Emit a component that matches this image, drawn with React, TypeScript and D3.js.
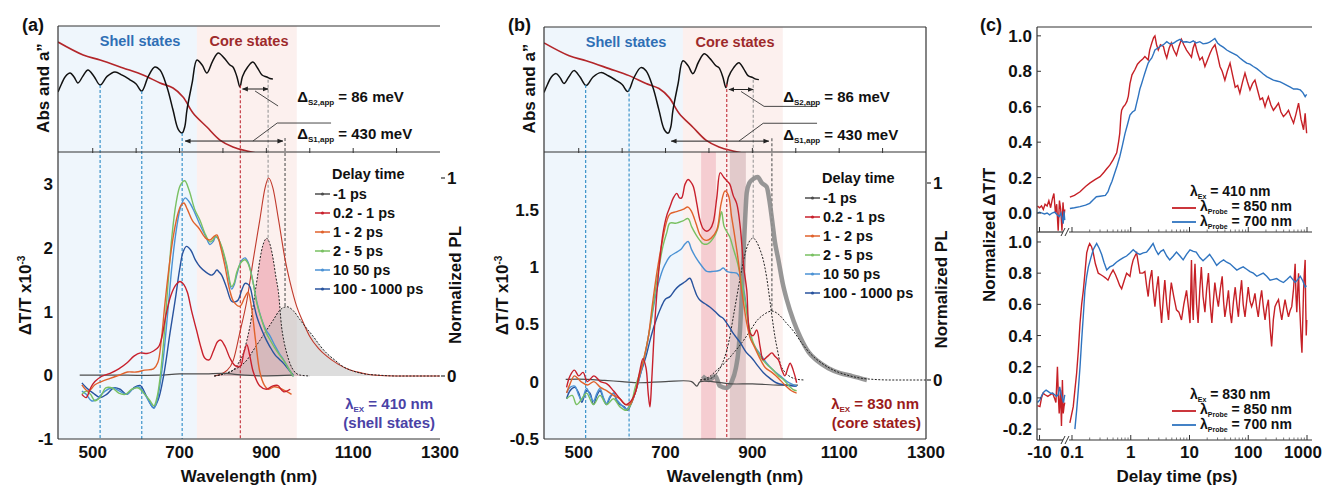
import React from 'react';
import * as d3 from 'd3';

type Pt = [number, number];

// ---------------- shared top strip (Abs and a'') ----------------
const absorbance: Pt[] = [[420,0.873],[478,0.77],[517,0.73],[570,0.667],[616,0.611],[655,0.548],[685,0.508],[708,0.437],[731,0.31],[763,0.198],[793,0.095],[823,0.04],[855,0.008],[880,-0.01]];
const secondDeriv: Pt[] = [[420,0.476],[428,0.54],[437,0.6],[448,0.627],[457,0.595],[466,0.548],[477,0.6],[489,0.651],[503,0.6],[517,0.532],[533,0.6],[551,0.635],[568,0.61],[585,0.575],[600,0.54],[613,0.484],[628,0.6],[643,0.675],[655,0.65],[671,0.516],[685,0.333],[697,0.18],[706,0.151],[712,0.2],[717,0.333],[729,0.548],[740,0.73],[752,0.69],[763,0.627],[776,0.72],[789,0.786],[803,0.745],[816,0.69],[823,0.675],[832,0.6],[839,0.516],[845,0.6],[857,0.675],[869,0.714],[880,0.665],[890,0.611],[901,0.595],[908,0.583],[915,0.579]];

const wlTicks = [500, 700, 900, 1100, 1300];
const delayLabels = ['-1 ps', '0.2 - 1 ps', '1 - 2 ps', '2 - 5 ps', '10  50 ps', '100 - 1000 ps'];

// ---------------- panel (a), excitation 410 nm ----------------
const aM1: Pt[] = [[470,0],[520,0],[580,0.0],[650,0.0],[700,0.02],[760,0.02],[800,0.03],[850,0.0],[900,-0.01],[960,0.0]];
const a02: Pt[] = [[475,-0.3],[485,-0.35],[495,-0.2],[505,-0.1],[520,-0.02],[540,0.03],[560,0.1],[580,0.2],[595,0.3],[610,0.35],[625,0.34],[640,0.38],[652,0.45],[660,0.62],[668,0.92],[680,1.25],[692,1.42],[701,1.47],[710,1.42],[718,1.3],[728,1.0],[739,0.71],[750,0.42],[758,0.27],[768,0.24],[778,0.38],[788,0.53],[795,0.55],[805,0.45],[816,0.27],[828,0.15],[840,0.14],[848,0.35],[855,0.48],[862,0.3],[870,0.05],[885,-0.17],[900,-0.22],[914,-0.17],[926,-0.16],[940,-0.26],[955,-0.22]];
const a12: Pt[] = [[475,-0.15],[490,-0.25],[505,-0.15],[520,-0.1],[540,-0.05],[560,0.0],[580,0.05],[600,0.05],[620,0.08],[640,0.1],[650,0.2],[658,0.55],[666,1.1],[675,1.65],[685,2.15],[695,2.5],[703,2.66],[710,2.7],[718,2.6],[730,2.42],[745,2.3],[760,2.15],[770,2.12],[780,2.18],[786,2.2],[795,2.0],[805,1.7],[815,1.35],[825,1.15],[839,1.08],[850,1.22],[858,1.3],[866,1.05],[875,0.55],[885,0.05],[895,-0.15],[905,-0.22],[918,-0.18],[930,-0.2],[945,-0.25],[958,-0.3]];
const a25: Pt[] = [[475,-0.3],[485,-0.25],[495,-0.3],[505,-0.4],[517,-0.35],[530,-0.2],[545,-0.2],[560,-0.28],[575,-0.3],[590,-0.22],[605,-0.2],[620,-0.3],[632,-0.4],[641,-0.48],[648,-0.35],[655,-0.05],[663,0.5],[672,1.3],[682,2.15],[692,2.7],[702,2.98],[712,3.05],[722,2.9],[735,2.6],[747,2.43],[760,2.2],[770,2.09],[777,2.12],[782,2.18],[788,2.15],[797,2.02],[808,1.75],[820,1.39],[826,1.45],[832,1.62],[843,1.78],[851,1.81],[858,1.75],[864,1.62],[871,1.4],[878,1.13],[890,0.85],[900,0.66],[908,0.56],[920,0.42],[930,0.32],[939,0.24],[950,0.12],[962,-0.02]];
const a1050: Pt[] = [[475,-0.25],[485,-0.3],[497,-0.4],[510,-0.38],[520,-0.3],[535,-0.22],[548,-0.2],[562,-0.25],[578,-0.3],[592,-0.22],[606,-0.18],[620,-0.3],[633,-0.45],[641,-0.52],[649,-0.38],[656,-0.1],[664,0.35],[673,1.0],[683,1.75],[693,2.3],[703,2.65],[713,2.78],[722,2.72],[735,2.55],[747,2.36],[760,2.18],[770,2.05],[778,2.1],[783,2.17],[790,2.13],[797,2.0],[808,1.72],[820,1.35],[826,1.42],[832,1.58],[843,1.8],[851,1.84],[858,1.77],[864,1.63],[871,1.4],[878,1.15],[890,0.86],[900,0.7],[908,0.62],[920,0.46],[930,0.34],[939,0.25],[950,0.12],[962,-0.02]];
const a1001000: Pt[] = [[475,-0.12],[486,-0.2],[501,-0.28],[517,-0.35],[532,-0.3],[548,-0.2],[563,-0.22],[578,-0.3],[594,-0.2],[609,-0.16],[624,-0.33],[640,-0.51],[651,-0.38],[663,-0.02],[678,0.66],[690,1.18],[700,1.65],[708,1.93],[716,2.02],[726,1.96],[737,1.8],[747,1.7],[760,1.62],[774,1.57],[780,1.6],[786,1.65],[791,1.62],[797,1.57],[808,1.38],[820,1.16],[828,1.15],[835,1.18],[843,1.33],[851,1.44],[857,1.43],[862,1.39],[870,1.15],[878,0.92],[890,0.7],[900,0.55],[908,0.45],[920,0.32],[930,0.25],[939,0.19],[950,0.1],[962,0.0]];
// PL (normalized, right axis)
const aPL: Pt[] = [[780,0],[810,0.03],[824,0.08],[839,0.22],[855,0.38],[870,0.59],[885,0.79],[897,0.95],[905,1.0],[915,0.95],[928,0.79],[943,0.59],[955,0.47],[970,0.35],[985,0.27],[1000,0.2],[1020,0.14],[1039,0.1],[1065,0.06],[1093,0.03],[1120,0.015],[1146,0.005],[1200,0],[1300,0]];
const aPLNarrow: Pt[] = [[780,0],[793,0.005],[810,0.015],[824,0.03],[837,0.07],[847,0.115],[855,0.18],[862,0.25],[868,0.33],[874,0.42],[880,0.51],[885,0.586],[892,0.66],[901,0.695],[909,0.66],[916,0.586],[922,0.5],[928,0.42],[935,0.25],[941,0.17],[947,0.115],[955,0.06],[962,0.03],[977,0.005],[1000,0]];
const aPLBroad: Pt[] = [[780,0],[793,0.005],[824,0.03],[840,0.05],[855,0.08],[870,0.13],[885,0.18],[900,0.23],[916,0.283],[930,0.33],[947,0.35],[962,0.33],[978,0.283],[993,0.24],[1008,0.2],[1023,0.155],[1039,0.115],[1058,0.08],[1077,0.047],[1096,0.028],[1116,0.015],[1135,0.008],[1154,0.005],[1200,0],[1300,0]];

// ---------------- panel (b), excitation 830 nm ----------------
const bM1: Pt[] = [[470,0.02],[520,0.02],[560,0.01],[600,0.0],[640,-0.01],[700,0.0],[760,0.0],[772,-0.04],[780,0.0],[850,-0.02],[900,-0.02],[960,-0.03],[1005,-0.03]];
const b02: Pt[] = [[472,-0.05],[480,0.05],[490,0.1],[500,0.05],[510,0.08],[520,0.0],[535,0.05],[550,0.0],[565,-0.02],[580,-0.08],[595,-0.15],[608,-0.2],[618,-0.18],[630,-0.1],[640,0.08],[648,0.2],[655,0.12],[660,-0.1],[664,-0.22],[668,0.0],[675,0.5],[684,0.95],[694,1.29],[703,1.45],[710,1.52],[718,1.6],[726,1.64],[732,1.6],[737,1.6],[745,1.72],[752,1.76],[758,1.74],[764,1.7],[772,1.55],[779,1.41],[787,1.33],[795,1.31],[803,1.33],[810,1.39],[818,1.6],[826,1.82],[834,1.78],[841,1.75],[848,1.72],[856,1.62],[864,1.55],[872,1.35],[880,1.0],[887,0.8],[895,0.42],[902,0.4],[910,0.45],[918,0.3],[925,0.19],[935,0.22],[945,0.25],[952,0.22],[960,0.19],[968,0.1],[975,0.05],[982,0.12],[987,0.16],[994,0.1],[1002,-0.01]];
const b12: Pt[] = [[472,-0.1],[480,-0.02],[490,0.05],[505,0.0],[520,-0.03],[535,0.0],[550,-0.05],[565,-0.08],[580,-0.12],[595,-0.15],[608,-0.2],[618,-0.2],[630,-0.1],[640,0.05],[650,0.2],[660,0.38],[670,0.68],[680,0.95],[694,1.25],[703,1.4],[710,1.46],[725,1.48],[740,1.5],[752,1.52],[760,1.48],[770,1.38],[779,1.28],[787,1.24],[795,1.23],[805,1.25],[818,1.32],[828,1.55],[837,1.66],[845,1.62],[852,1.44],[858,1.3],[864,1.15],[870,0.98],[875,0.8],[881,0.65],[887,0.51],[895,0.38],[905,0.3],[915,0.22],[930,0.12],[945,0.08],[960,0.03],[975,-0.03],[990,-0.08],[1002,-0.1]];
const b25: Pt[] = [[472,-0.15],[485,-0.12],[495,-0.2],[507,-0.15],[518,-0.1],[534,-0.2],[549,-0.12],[564,-0.2],[580,-0.15],[595,-0.22],[610,-0.25],[620,-0.2],[630,-0.05],[641,0.08],[650,0.2],[660,0.38],[670,0.62],[680,0.88],[694,1.18],[703,1.3],[710,1.38],[725,1.38],[740,1.4],[752,1.42],[760,1.35],[770,1.28],[779,1.23],[787,1.2],[797,1.2],[810,1.25],[820,1.33],[829,1.48],[835,1.35],[848,1.26],[856,1.16],[864,1.06],[872,0.93],[879,0.8],[885,0.65],[891,0.51],[902,0.34],[918,0.22],[933,0.15],[948,0.1],[960,0.05],[971,0.02],[985,-0.04],[994,-0.07],[1002,-0.08]];
const b1050: Pt[] = [[472,-0.1],[480,-0.05],[491,-0.04],[500,-0.12],[507,-0.16],[518,-0.06],[526,-0.12],[534,-0.17],[542,-0.1],[549,-0.06],[557,-0.14],[564,-0.19],[572,-0.13],[580,-0.1],[588,-0.16],[595,-0.19],[610,-0.24],[618,-0.2],[626,-0.14],[634,-0.05],[641,0.05],[650,0.18],[660,0.38],[670,0.6],[680,0.8],[694,0.98],[703,1.05],[710,1.09],[722,1.12],[735,1.15],[745,1.2],[752,1.22],[760,1.15],[770,1.08],[779,1.03],[787,0.99],[795,0.96],[810,0.96],[825,0.97],[833,0.99],[841,0.96],[852,0.95],[864,0.945],[872,0.9],[880,0.8],[887,0.63],[895,0.39],[902,0.33],[910,0.28],[922,0.22],[933,0.16],[948,0.1],[964,0.05],[980,0.0],[1002,-0.04]];
const b1001000: Pt[] = [[472,-0.15],[480,-0.08],[491,-0.05],[500,-0.1],[507,-0.18],[518,-0.08],[526,-0.1],[534,-0.2],[542,-0.12],[549,-0.08],[557,-0.15],[564,-0.2],[572,-0.14],[580,-0.1],[588,-0.17],[595,-0.2],[605,-0.22],[612,-0.25],[620,-0.2],[628,-0.12],[636,-0.02],[645,0.1],[655,0.22],[665,0.37],[675,0.5],[690,0.65],[700,0.72],[710,0.74],[722,0.8],[733,0.84],[745,0.87],[756,0.9],[765,0.82],[772,0.75],[779,0.71],[790,0.68],[802,0.65],[814,0.61],[825,0.57],[833,0.55],[841,0.51],[848,0.47],[856,0.42],[864,0.38],[872,0.34],[880,0.29],[887,0.25],[895,0.22],[902,0.19],[914,0.13],[925,0.08],[940,0.03],[955,-0.01],[975,-0.03],[1002,-0.04]];
const bPL: Pt[] = [[785,0.02],[800,0.0],[815,0.02],[825,-0.03],[840,-0.04],[852,-0.01],[862,0.06],[868,0.15],[872,0.27],[876,0.45],[879,0.61],[883,0.8],[887,0.95],[893,1.0],[902,1.02],[912,1.03],[922,1.0],[933,0.98],[940,0.9],[945,0.82],[952,0.7],[960,0.61],[970,0.49],[979,0.41],[995,0.3],[1010,0.22],[1030,0.14],[1048,0.1],[1075,0.06],[1102,0.035],[1130,0.02],[1164,0.0]];
const bPLNarrow: Pt[] = [[780,0],[795,0.003],[810,0.015],[818,0.034],[830,0.08],[841,0.15],[849,0.23],[856,0.32],[864,0.42],[872,0.52],[880,0.61],[887,0.67],[895,0.71],[902,0.72],[910,0.7],[918,0.66],[925,0.61],[933,0.52],[940,0.41],[946,0.31],[952,0.22],[958,0.15],[964,0.085],[975,0.04],[987,0.017],[1000,0.005],[1020,0]];
const bPLBroad: Pt[] = [[780,0],[800,0.015],[818,0.05],[838,0.09],[856,0.135],[876,0.19],[895,0.25],[910,0.3],[925,0.33],[945,0.35],[962,0.33],[978,0.29],[994,0.25],[1013,0.19],[1033,0.135],[1060,0.085],[1087,0.05],[1118,0.025],[1148,0.01],[1180,0.003],[1220,0],[1300,0]];
const bBands: Pt[] = [[782, 816], [848, 885]];

// ---------------- panel (c) kinetics ----------------
const cTopRed: Pt[] = [[-10.8,0.04],[-10,0.03],[-9.2,0.04],[-8.5,0.02],[-7.8,0.05],[-7,0.04],[-6.3,0.07],[-5.6,0.03],[-4.9,0.08],[-4.3,0.11],[-3.7,0.0],[-3.2,0.05],[-2.6,-0.1],[-2.1,0.07],[-1.6,0.02],[-1.1,-0.1],[-0.7,0.06],[-0.3,-0.02],[0,0.02],
  [0.092,0.09],[0.11,0.1],[0.137,0.12],[0.17,0.15],[0.203,0.17],[0.25,0.19],[0.3,0.205],[0.35,0.23],[0.39,0.25],[0.44,0.27],[0.5,0.3],[0.577,0.34],[0.62,0.4],[0.65,0.45],[0.68,0.55],[0.7,0.58],[0.75,0.6],[0.8,0.61],[0.86,0.63],[0.91,0.66],[0.97,0.73],[1.05,0.78],[1.18,0.81],[1.3,0.84],[1.43,0.855],[1.6,0.87],[1.74,0.883],[1.98,0.864],[2.1,0.92],[2.28,0.96],[2.45,0.99],[2.58,1.0],[2.75,0.95],[2.94,0.92],[3.2,0.95],[3.6,0.94],[3.85,0.9],[4.1,0.875],[4.5,0.93],[4.9,0.96],[5.4,0.92],[6,0.89],[6.6,0.94],[7.3,0.98],[8,0.95],[8.9,0.92],[9.8,0.9],[10.8,0.88],[11.5,0.93],[12.4,0.96],[13.5,0.91],[15,0.864],[16.5,0.88],[18.3,0.827],[20,0.86],[22.3,0.9],[24.5,0.93],[27.2,0.95],[30,0.89],[33,0.827],[36,0.8],[40,0.75],[44,0.8],[49,0.846],[54,0.78],[60,0.71],[66,0.72],[72,0.676],[80,0.74],[88,0.79],[97,0.74],[107,0.695],[118,0.73],[130,0.75],[145,0.69],[159,0.64],[175,0.65],[193,0.6],[205,0.63],[220,0.657],[243,0.61],[268,0.58],[297,0.6],[327,0.62],[360,0.57],[397,0.544],[440,0.56],[484,0.58],[535,0.54],[590,0.507],[650,0.56],[718,0.62],[790,0.53],[874,0.47],[905,0.52],[930,0.563],[960,0.5],[985,0.45]];
const cTopBlue: Pt[] = [[-10.8,0],[-10,0.005],[-9,0],[-8,-0.005],[-7,0],[-6,-0.01],[-5,0],[-4,0.005],[-3,-0.01],[-2.2,-0.02],[-1.5,0],[-1,-0.03],[-0.6,-0.06],[-0.3,0.01],[0,-0.04],
  [0.092,0.026],[0.11,0.03],[0.137,0.036],[0.17,0.045],[0.2,0.055],[0.23,0.075],[0.26,0.092],[0.3,0.095],[0.37,0.1],[0.41,0.12],[0.44,0.15],[0.48,0.18],[0.53,0.223],[0.59,0.27],[0.65,0.318],[0.72,0.38],[0.8,0.45],[0.88,0.5],[0.97,0.553],[1.07,0.57],[1.18,0.58],[1.26,0.62],[1.34,0.657],[1.43,0.7],[1.53,0.73],[1.63,0.76],[1.74,0.79],[1.86,0.82],[1.98,0.846],[2.1,0.86],[2.28,0.875],[2.45,0.9],[2.58,0.92],[2.85,0.93],[3.15,0.94],[3.6,0.95],[4.1,0.967],[4.6,0.955],[5.3,0.958],[6,0.97],[6.9,0.98],[7.8,0.965],[8.9,0.967],[10.2,0.962],[11.6,0.972],[13,0.96],[15,0.967],[17,0.955],[19.6,0.958],[22,0.965],[24.5,0.975],[27,0.985],[30,0.96],[33,0.948],[38,0.935],[43,0.92],[49,0.91],[56,0.9],[64,0.89],[72,0.875],[82,0.86],[94,0.846],[107,0.84],[122,0.827],[140,0.815],[159,0.8],[180,0.785],[206,0.77],[235,0.76],[268,0.75],[305,0.745],[350,0.74],[400,0.73],[455,0.72],[520,0.71],[590,0.7],[680,0.7],[768,0.695],[850,0.68],[930,0.657],[985,0.67]];
const cBotRed: Pt[] = [[-10.8,-0.05],[-9.85,-0.056],[-9.2,0],[-8.6,0.03],[-7.8,0.02],[-6.7,0.01],[-5.8,0.02],[-4.8,0.03],[-4.1,0],[-3.5,-0.03],[-2.9,0.2],[-2.5,0],[-2.2,-0.1],[-1.7,0.05],[-1.3,-0.18],[-0.93,0.115],[-0.6,-0.1],[-0.3,-0.056],[0,-0.03],
  [0.092,-0.16],[0.105,-0.056],[0.112,0.05],[0.12,0.16],[0.128,0.3],[0.137,0.48],[0.146,0.6],[0.156,0.69],[0.166,0.8],[0.178,0.93],[0.19,0.97],[0.2,0.99],[0.215,0.97],[0.23,0.93],[0.25,0.86],[0.28,0.8],[0.31,0.79],[0.34,0.78],[0.37,0.77],[0.41,0.755],[0.45,0.79],[0.5,0.82],[0.55,0.79],[0.6,0.755],[0.65,0.72],[0.7,0.7],[0.77,0.75],[0.85,0.8],[0.97,0.78],[1.03,0.84],[1.1,0.885],[1.18,0.91],[1.26,0.93],[1.35,0.86],[1.43,0.8],[1.6,0.8],[1.74,0.81],[1.86,0.72],[1.98,0.65],[2.1,0.75],[2.28,0.82],[2.4,0.7],[2.58,0.585],[2.75,0.7],[2.94,0.78],[3.15,0.6],[3.35,0.48],[3.6,0.65],[3.8,0.755],[4.1,0.6],[4.4,0.5],[4.65,0.65],[4.9,0.74],[5.4,0.65],[6,0.565],[6.6,0.55],[7.3,0.5],[8,0.6],[8.9,0.69],[9.6,0.58],[10.2,0.48],[10.8,0.885],[11.2,0.6],[11.6,0.5],[12,0.75],[12.4,0.86],[13.2,0.6],[14,0.48],[15,0.7],[15.9,0.84],[17,0.65],[18.3,0.55],[19.6,0.7],[21,0.8],[22.5,0.6],[24,0.48],[25.5,0.62],[27,0.74],[29,0.65],[31,0.585],[33.5,0.7],[36,0.78],[38,0.62],[40,0.52],[43,0.6],[46,0.69],[49,0.55],[52,0.48],[56,0.62],[60,0.71],[64,0.6],[68,0.52],[72,0.65],[77,0.755],[82,0.6],[88,0.52],[94,0.62],[100,0.71],[107,0.62],[114,0.585],[122,0.62],[130,0.67],[139,0.58],[148,0.52],[158,0.62],[169,0.69],[181,0.58],[193,0.5],[206,0.58],[220,0.63],[235,0.45],[250,0.33],[267,0.5],[285,0.585],[305,0.61],[327,0.63],[349,0.56],[372,0.5],[397,0.57],[423,0.63],[453,0.57],[484,0.52],[516,0.56],[550,0.585],[590,0.7],[628,0.86],[650,0.65],[670,0.55],[695,0.7],[718,0.8],[742,0.62],[768,0.5],[793,0.38],[820,0.29],[847,0.5],[874,0.69],[900,0.8],[930,0.885],[950,0.6],[970,0.4],[990,0.5]];
const cBotBlue: Pt[] = [[-10.8,-0.03],[-9.85,-0.013],[-9,0.02],[-8.2,0.04],[-7.4,0.05],[-6.5,0.04],[-5.6,0.03],[-4.8,0.03],[-4,0.02],[-3.3,0.01],[-2.6,0.02],[-2,0.07],[-1.5,0.03],[-1,0],[-0.5,-0.03],[0,0.02],
  [0.112,-0.2],[0.12,-0.08],[0.128,0.05],[0.137,0.2],[0.146,0.37],[0.156,0.53],[0.166,0.69],[0.178,0.78],[0.19,0.84],[0.21,0.9],[0.23,0.95],[0.245,0.97],[0.263,0.99],[0.29,0.96],[0.32,0.92],[0.35,0.87],[0.39,0.82],[0.44,0.84],[0.5,0.85],[0.57,0.87],[0.65,0.885],[0.75,0.9],[0.85,0.91],[0.97,0.93],[1.1,0.95],[1.26,0.93],[1.43,0.92],[1.63,0.93],[1.86,0.935],[2.1,0.96],[2.4,0.99],[2.65,0.95],[2.94,0.92],[3.25,0.94],[3.6,0.95],[4.1,0.91],[4.6,0.885],[5.3,0.91],[6,0.935],[6.9,0.91],[7.8,0.885],[8.9,0.92],[10.2,0.95],[11.6,0.94],[13,0.935],[15,0.9],[17,0.88],[19.5,0.9],[22,0.92],[25,0.89],[29,0.85],[33,0.87],[38,0.885],[43,0.87],[49,0.86],[56,0.84],[64,0.82],[72,0.83],[82,0.84],[94,0.825],[107,0.81],[122,0.8],[140,0.78],[159,0.79],[180,0.8],[206,0.78],[235,0.755],[268,0.76],[305,0.765],[350,0.75],[397,0.74],[455,0.76],[518,0.78],[570,0.76],[628,0.74],[700,0.76],[768,0.78],[850,0.75],[930,0.71],[980,0.72]];
const cTopTicks = [0, 0.2, 0.4, 0.6, 0.8, 1.0];
const cBotTicks = [-0.2, 0, 0.2, 0.4, 0.6, 0.8, 1.0];
const cLogTicks = [0.1, 1, 10, 100, 1000];

const FONT = '"Liberation Sans", Arial, Helvetica, sans-serif';
const delayColors = ['#4d4d4d', '#c8202c', '#e0622c', '#79c062', '#4b92d4', '#28539e'];
const RED = '#c62026';
const BLUE = '#2f74c0';

function interp(arr: Pt[], x: number) {
  for (let i = 1; i < arr.length; i++) {
    if (arr[i][0] >= x) {
      const [x0, y0] = arr[i - 1];
      const [x1, y1] = arr[i];
      return y0 + ((y1 - y0) * (x - x0)) / (x1 - x0);
    }
  }
  return arr[arr.length - 1][1];
}

function Sub({ children, dy = 3, size = 8 }: { children: React.ReactNode; dy?: number; size?: number }) {
  return <tspan dy={dy} fontSize={size}>{children}</tspan>;
}

interface PanelProps {
  id: string; tag: string;
  left: number; right: number; top: number; mid: number; bottom: number;
  yDomain: [number, number]; yTicks: number[]; plRange: [number, number];
  curves: Pt[][]; pl?: Pt[]; plGray?: Pt[]; plNarrow: Pt[]; plBroad: Pt[];
  fills: boolean; bands?: Pt[];
  shellMarks: number[]; coreMark: number; s2Mark: number; s1Mark: number;
  legendX: number; legendY: number; yTitleOffset: number;
  exText: string; exState: string; exColor: string; rightSpine: boolean;
}

function SpectrumPanel(p: PanelProps) {
  const x = d3.scaleLinear().domain([420, 1300]).range([p.left, p.right]);
  const yT = d3.scaleLinear().domain([0, 1]).range([p.mid, p.top]);
  const y = d3.scaleLinear().domain(p.yDomain).range([p.bottom, p.mid]);
  const yPL = d3.scaleLinear().domain([0, 1]).range(p.plRange);

  const smooth = d3.curveMonotoneX;
  const lineT = d3.line<Pt>().x(d => x(d[0])).y(d => yT(d[1])).curve(d3.curveCatmullRom.alpha(0.5));
  const lineB = d3.line<Pt>().x(d => x(d[0])).y(d => y(d[1])).curve(d3.curveCatmullRom.alpha(0.5));
  const linePL = d3.line<Pt>().x(d => x(d[0])).y(d => yPL(d[1])).curve(smooth);
  const areaPL = d3.area<Pt>().x(d => x(d[0])).y0(yPL(0)).y1(d => yPL(d[1])).curve(smooth);

  const s2Level = 0.5, s1Level = 0.087;
  const order = [0, 5, 4, 3, 2, 1];
  const topClip = `${p.id}-top`, botClip = `${p.id}-bot`;
  const bold = { fontFamily: FONT, fontWeight: 700 } as const;

  return (
    <g>
      <defs>
        <clipPath id={topClip}><rect x={p.left} y={p.top} width={p.right - p.left} height={p.mid - p.top} /></clipPath>
        <clipPath id={botClip}><rect x={p.left} y={p.mid} width={p.right - p.left} height={p.bottom - p.mid} /></clipPath>
      </defs>
      {/* background regions */}
      <rect x={x(420)} y={p.top} width={x(740) - x(420)} height={p.bottom - p.top} fill="#eff6fc" />
      <rect x={x(740)} y={p.top} width={x(970) - x(740)} height={p.bottom - p.top} fill="#fcf0ee" />
      {p.bands && p.bands.map((b, i) => (
        <rect key={i} x={x(b[0])} y={p.mid} width={x(b[1]) - x(b[0])} height={p.bottom - p.mid}
          fill={i === 0 ? '#f5cdd1' : '#e2cacb'} />
      ))}

      {/* top strip */}
      <g clipPath={`url(#${topClip})`}>
        <path d={lineT(absorbance) ?? ''} fill="none" stroke="#b3262a" strokeWidth={1.6} />
        <path d={lineT(secondDeriv) ?? ''} fill="none" stroke="#111" strokeWidth={1.5} />
      </g>
      <text x={x(609)} y={p.top + 20} textAnchor="middle" fontSize={14.5} fill="#2f6fb5" {...bold}>Shell states</text>
      <text x={x(860)} y={p.top + 20} textAnchor="middle" fontSize={14.5} fill="#9e2a2b" {...bold}>Core states</text>

      {/* PL fills */}
      <g clipPath={`url(#${botClip})`}>
        {p.fills && <path d={areaPL(p.plNarrow) ?? ''} fill="#e8899a" opacity={0.5} />}
        {p.fills && <path d={areaPL(p.plBroad) ?? ''} fill="#b4b4b4" opacity={0.45} />}
      </g>

      {/* marker lines */}
      {p.shellMarks.map(w => (
        <line key={w} x1={x(w)} x2={x(w)} y1={yT(interp(secondDeriv, w))} y2={p.bottom} stroke="#2b8ac6" strokeWidth={1.1} strokeDasharray="3,2" />
      ))}
      <line x1={x(p.coreMark)} x2={x(p.coreMark)} y1={yT(interp(secondDeriv, p.coreMark))} y2={p.bottom} stroke="#c0303a" strokeWidth={1.1} strokeDasharray="3,2" />
      <line x1={x(p.s2Mark)} x2={x(p.s2Mark)} y1={yT(interp(secondDeriv, p.s2Mark)) + 2} y2={yPL(interp(p.plNarrow, p.s2Mark))} stroke="#999" strokeWidth={1.1} strokeDasharray="3,2" />
      <line x1={x(p.s1Mark)} x2={x(p.s1Mark)} y1={yT(s1Level) - 3} y2={yPL(interp(p.plBroad, p.s1Mark))} stroke="#555" strokeWidth={1.1} strokeDasharray="3,2" />

      {/* splitting annotations */}
      <line x1={x(p.coreMark + 5)} x2={x(p.s2Mark)} y1={yT(s2Level)} y2={yT(s2Level)} stroke="#222" strokeWidth={1} markerStart="url(#arr)" markerEnd="url(#arr)" />
      <polyline points={`${x(874)},${yT(s2Level) + 2} ${x(927)},${yT(0.365)}${p.rightSpine ? ` ${x(1049)},${yT(0.365)}` : ''}`} fill="none" stroke="#333" strokeWidth={0.9} />
      <line x1={x(713)} x2={x(938)} y1={yT(s1Level)} y2={yT(s1Level)} stroke="#222" strokeWidth={1} markerStart="url(#arr)" markerEnd="url(#arr)" />
      <polyline points={`${x(869)},${yT(s1Level)} ${x(925)},${yT(0.23)} ${x(1049)},${yT(0.23)}`} fill="none" stroke="#333" strokeWidth={0.9} />
      <text x={x(971)} y={yT(0.4)} fontSize={15} fill="#111" {...bold}>Δ<Sub>S2,app</Sub><tspan dy={-3}> = 86 meV</tspan></text>
      <text x={x(971)} y={yT(0.1)} fontSize={15} fill="#111" {...bold}>Δ<Sub>S1,app</Sub><tspan dy={-3}> = 430 meV</tspan></text>

      {/* PL lines and transient spectra */}
      <g clipPath={`url(#${botClip})`}>
        {p.plGray && <path d={linePL(p.plGray) ?? ''} fill="none" stroke="#8c8c8c" strokeWidth={4.5} opacity={0.9} />}
        {p.pl && <path d={linePL(p.pl) ?? ''} fill="none" stroke="#c0392b" strokeWidth={1.1} />}
        <path d={linePL(p.plNarrow) ?? ''} fill="none" stroke="#222" strokeWidth={1} strokeDasharray="2,1.5" />
        <path d={linePL(p.plBroad) ?? ''} fill="none" stroke="#222" strokeWidth={1} strokeDasharray="2,1.5" />
        {order.map(i => (
          <path key={i} d={lineB(p.curves[i]) ?? ''} fill="none" stroke={delayColors[i]} strokeWidth={i === 0 ? 1.2 : 1.4} />
        ))}
      </g>

      {/* frame */}
      <line x1={p.left} x2={p.right} y1={p.top} y2={p.top} stroke="#333" strokeWidth={1.2} />
      <line x1={p.left} x2={p.right} y1={p.mid} y2={p.mid} stroke="#333" strokeWidth={1.2} />
      <line x1={p.left} x2={p.right} y1={p.bottom} y2={p.bottom} stroke="#333" strokeWidth={1.2} />
      <line x1={p.left} x2={p.left} y1={p.top} y2={p.bottom} stroke="#333" strokeWidth={1.2} />
      {p.rightSpine && <line x1={p.right} x2={p.right} y1={p.top} y2={p.bottom} stroke="#333" strokeWidth={1.2} />}
      {d3.range(500, 1300, 100).map(w => (
        <line key={w} x1={x(w)} x2={x(w)} y1={p.mid + 1} y2={p.mid - 4} stroke="#333" strokeWidth={1} />
      ))}
      {wlTicks.map(w => (
        <text key={w} x={x(w)} y={458} textAnchor="middle" fontSize={17} fill="#111" {...bold}>{w}</text>
      ))}
      {p.yTicks.map(v => (
        <text key={v} x={p.left - 5} y={y(v)} dy="0.36em" textAnchor="end" fontSize={17} fill="#111" {...bold}>{v}</text>
      ))}
      {[0, 1].map(v => (
        <g key={v}>
          <line x1={p.right + 1} x2={p.right + 5} y1={yPL(v)} y2={yPL(v)} stroke="#333" strokeWidth={1.2} />
          <text x={p.right + 7} y={yPL(v)} dy="0.36em" fontSize={17} fill="#111" {...bold}>{v}</text>
        </g>
      ))}
      <text transform={`translate(${p.right + 21},${(p.plRange[0] + p.plRange[1]) / 2 + 8}) rotate(-90)`} textAnchor="middle" fontSize={17} fill="#111" {...bold}>Normalized PL</text>

      {/* axis titles */}
      <text x={(p.left + p.right) / 2} y={482} textAnchor="middle" fontSize={17} fill="#111" {...bold}>Wavelength (nm)</text>
      <text transform={`translate(${p.left - p.yTitleOffset},${(p.mid + p.bottom) / 2}) rotate(-90)`} textAnchor="middle" fontSize={17} fill="#111" {...bold}>
        ΔT/T x10<tspan dy={-6} fontSize={10}>-3</tspan>
      </text>
      <text transform={`translate(${p.left - 9},${(p.top + p.mid) / 2 - 1}) rotate(-90)`} textAnchor="middle" fontSize={17} fill="#111" {...bold}>Abs and a”</text>
      <text x={p.left - 36} y={31} fontSize={18} fill="#111" {...bold}>{p.tag}</text>

      {/* legend */}
      <text x={p.legendX + 17} y={p.legendY} dy="0.36em" fontSize={14.5} fill="#111" {...bold}>Delay time</text>
      {delayLabels.map((lab, i) => {
        const yy = p.legendY + 20 + 19 * i;
        return (
          <g key={lab}>
            <line x1={p.legendX} x2={p.legendX + 15} y1={yy} y2={yy} stroke={delayColors[i]} strokeWidth={1.5} />
            <circle cx={p.legendX + 7.5} cy={yy} r={1.6} fill={delayColors[i]} />
            <text x={p.legendX + 18} y={yy} dy="0.36em" fontSize={14.5} fill="#111" {...bold}>{lab}</text>
          </g>
        );
      })}
      <text x={p.right - 7} y={409} textAnchor="end" fontSize={15} fill={p.exColor} {...bold}>λ<Sub>EX</Sub><tspan dy={-3}>{` = ${p.exText}`}</tspan></text>
      <text x={p.right - 5} y={428} textAnchor="end" fontSize={15} fill={p.exColor} {...bold}>{p.exState}</text>
    </g>
  );
}

function KineticsPanel() {
  const left = 1037, right = 1312, top = 27, mid = 232, bottom = 440;
  const xNeg = d3.scaleLinear().domain([-11, 0.1]).range([left, 1065]);
  const xPos = d3.scaleLog().domain([0.0855, 1216]).range([1068, right]);
  const tx = (t: number) => (t <= 0.05 ? xNeg(t) : xPos(t));
  const yTop = d3.scaleLinear().domain([-0.107, 1.05]).range([mid, top]);
  const yBot = d3.scaleLinear().domain([-0.27, 1.064]).range([bottom, mid]);
  const bold = { fontFamily: FONT, fontWeight: 700 } as const;

  const trace = (data: Pt[], ys: d3.ScaleLinear<number, number>) => {
    const ln = d3.line<Pt>().x(d => tx(d[0])).y(d => ys(d[1]));
    return [ln(data.filter(d => d[0] <= 0.05)) ?? '', ln(data.filter(d => d[0] > 0.05)) ?? ''];
  };
  const minor: number[] = [];
  [0.1, 1, 10, 100].forEach(dec => d3.range(2, 10).forEach(m => minor.push(dec * m)));

  const axisRow = (yy: number) => (
    <g>
      <line x1={left} x2={1063} y1={yy} y2={yy} stroke="#333" strokeWidth={1.2} />
      <line x1={1069} x2={right} y1={yy} y2={yy} stroke="#333" strokeWidth={1.2} />
      <line x1={1061} x2={1065} y1={yy + 4} y2={yy - 4} stroke="#333" strokeWidth={1} />
      <line x1={1065} x2={1069} y1={yy + 4} y2={yy - 4} stroke="#333" strokeWidth={1} />
      <line x1={xNeg(-10)} x2={xNeg(-10)} y1={yy} y2={yy - 5} stroke="#333" />
      {cLogTicks.map(t => <line key={t} x1={xPos(t)} x2={xPos(t)} y1={yy} y2={yy - 5} stroke="#333" />)}
      {minor.map(t => <line key={t} x1={xPos(t)} x2={xPos(t)} y1={yy} y2={yy - 2.5} stroke="#555" strokeWidth={0.8} />)}
    </g>
  );

  const legend = (y0: number, ex: string) => (
    <g fontSize={14} fill="#111" {...bold}>
      <text x={1190} y={y0}>λ<Sub size={7}>Ex</Sub><tspan dy={-3}>{` = ${ex}`}</tspan></text>
      <line x1={1172} x2={1196} y1={y0 + 12} y2={y0 + 12} stroke={RED} strokeWidth={1.8} />
      <text x={1200} y={y0 + 15}>λ<Sub size={7}>Probe</Sub><tspan dy={-3}> = 850 nm</tspan></text>
      <line x1={1172} x2={1196} y1={y0 + 26} y2={y0 + 26} stroke={BLUE} strokeWidth={1.8} />
      <text x={1200} y={y0 + 30}>λ<Sub size={7}>Probe</Sub><tspan dy={-3}> = 700 nm</tspan></text>
    </g>
  );

  const series: [Pt[], string, d3.ScaleLinear<number, number>][] = [
    [cTopRed, RED, yTop], [cTopBlue, BLUE, yTop], [cBotRed, RED, yBot], [cBotBlue, BLUE, yBot],
  ];

  return (
    <g>
      {series.map(([data, col, ys], i) =>
        trace(data, ys).map((d, j) => <path key={`${i}-${j}`} d={d} fill="none" stroke={col} strokeWidth={1.4} />)
      )}
      <line x1={left} x2={right} y1={top} y2={top} stroke="#333" strokeWidth={1.2} />
      <line x1={left} x2={left} y1={top} y2={bottom} stroke="#333" strokeWidth={1.2} />
      {axisRow(mid)}
      {axisRow(bottom)}
      {cTopTicks.map(v => (
        <g key={`t${v}`}>
          <line x1={left} x2={left + 4} y1={yTop(v)} y2={yTop(v)} stroke="#333" />
          <text x={left - 5} y={yTop(v)} dy="0.36em" textAnchor="end" fontSize={17} fill="#111" {...bold}>{v.toFixed(1)}</text>
        </g>
      ))}
      {cBotTicks.map(v => (
        <g key={`b${v}`}>
          <line x1={left} x2={left + 4} y1={yBot(v)} y2={yBot(v)} stroke="#333" />
          <text x={left - 5} y={yBot(v)} dy="0.36em" textAnchor="end" fontSize={17} fill="#111" {...bold}>{v.toFixed(1)}</text>
        </g>
      ))}
      <text x={xNeg(-10)} y={458} textAnchor="middle" fontSize={17} fill="#111" {...bold}>-10</text>
      {cLogTicks.map(t => (
        <text key={t} x={Math.min(xPos(t), 1303)} y={458} textAnchor="middle" fontSize={17} fill="#111" {...bold}>{t}</text>
      ))}
      <text x={1177} y={482} textAnchor="middle" fontSize={17} fill="#111" {...bold}>Delay time (ps)</text>
      <text transform={`translate(995,235) rotate(-90)`} textAnchor="middle" fontSize={17} fill="#111" {...bold}>Normalized ΔT/T</text>
      <text x={980} y={31} fontSize={18} fill="#111" {...bold}>(c)</text>
      {legend(196, '410 nm')}
      {legend(399, '830 nm')}
    </g>
  );
}

export default function App() {
  return (
    <div style={{ position: 'absolute', left: 0, top: 0 }}>
      <svg width={1323} height={487} viewBox="0 0 1323 487" style={{ display: 'block', background: '#fff' }}>
        <defs>
          <marker id="arr" viewBox="0 0 10 10" refX={9} refY={5} markerWidth={6} markerHeight={6} orient="auto-start-reverse">
            <path d="M0,1 L10,5 L0,9 z" fill="#222" />
          </marker>
        </defs>
        <SpectrumPanel id="pa" tag="(a)" left={58} right={440} top={26} mid={152} bottom={439}
          yDomain={[-1, 3.5]} yTicks={[-1, 0, 1, 2, 3]} plRange={[376, 178]}
          curves={[aM1, a02, a12, a25, a1050, a1001000]} pl={aPL} plNarrow={aPLNarrow} plBroad={aPLBroad}
          fills shellMarks={[517, 613, 706]} coreMark={840} s2Mark={904} s1Mark={943}
          legendX={315} legendY={174} yTitleOffset={27} exText="410 nm" exState="(shell states)" exColor="#4a42a6" rightSpine={false} />
        <SpectrumPanel id="pb" tag="(b)" left={544} right={926} top={27} mid={152} bottom={439}
          yDomain={[-0.5, 2.0]} yTicks={[-0.5, 0, 0.5, 1, 1.5]} plRange={[380, 183]}
          curves={[bM1, b02, b12, b25, b1050, b1001000]} plGray={bPL} plNarrow={bPLNarrow} plBroad={bPLBroad}
          fills={false} bands={bBands} shellMarks={[516, 616]} coreMark={841} s2Mark={902} s1Mark={945}
          legendX={805} legendY={178} yTitleOffset={36} exText="830 nm" exState="(core states)" exColor="#9b1c1c" rightSpine />
        <KineticsPanel />
      </svg>
    </div>
  );
}
